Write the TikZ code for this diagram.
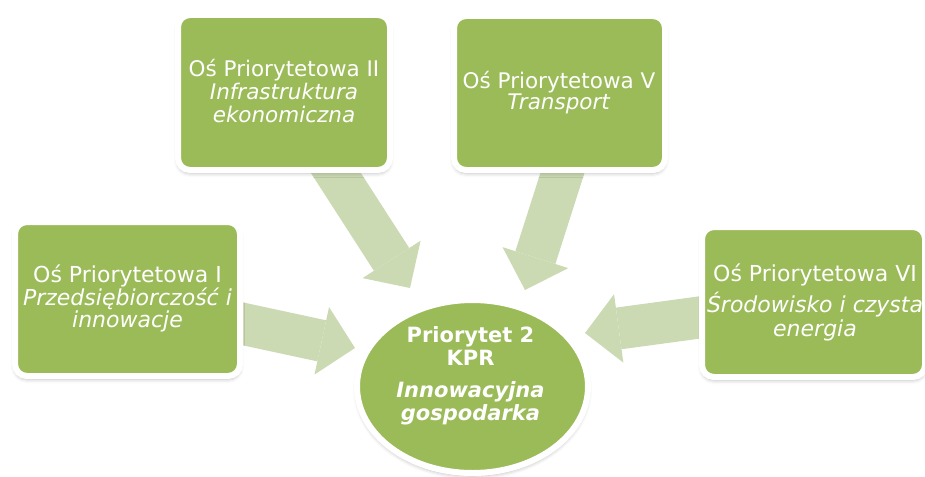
\documentclass[tikz,border=0pt]{standalone}
\usepackage{fontspec}
\setmainfont{DejaVu Sans}
\usetikzlibrary{arrows.meta,shadows.blur,backgrounds,shapes.geometric}
\definecolor{boxgreen}{HTML}{9BBB59}
\definecolor{arrowgreen}{HTML}{CBDAB3}
\tikzset{
  box/.style={rectangle, rounded corners=12pt, fill=boxgreen, draw=white, line width=6pt, inner sep=0pt,
    blur shadow={shadow xshift=0pt, shadow yshift=-3pt, shadow blur radius=4pt, shadow opacity=30}},
  hub/.style={ellipse, fill=boxgreen, draw=white, line width=6pt, inner sep=0pt,
    blur shadow={shadow xshift=0pt, shadow yshift=-3pt, shadow blur radius=4pt, shadow opacity=30}},
  lbl/.style={text=white, align=center, anchor=base, inner sep=0pt},
  flow/.style={draw=arrowgreen, line width=42pt, -{Triangle[length=34pt,width=69pt,line width=0pt]}},
}
\begin{document}
\begin{tikzpicture}[x=1pt,y=-1pt]
\useasboundingbox (0,0) rectangle (925,476);
% boxes
\node[box, minimum width=225pt, minimum height=154pt] (b1) at (127.5,299) {};
\node[box, minimum width=212pt, minimum height=155pt] (b2) at (284,92.5) {};
\node[box, minimum width=211pt, minimum height=154pt] (b5) at (559.5,93) {};
\node[box, minimum width=223pt, minimum height=150pt] (b6) at (813.5,302) {};
\node[hub, minimum width=231pt, minimum height=173pt] (c) at (472.5,386.5) {};
% arrow tips
\coordinate (t1) at (355,348);
\coordinate (t2) at (410,288);
\coordinate (t5) at (525,290);
\coordinate (t6) at (585,333);
\coordinate (s5) at (588,93);
\begin{scope}[on background layer]
  \draw[flow] (b1.center) -- (t1);
  \draw[flow] (b2.center) -- (t2);
  \draw[flow] (s5) -- (t5);
  \draw[flow] (b6.center) -- (t6);
\end{scope}
% labels (anchored at the baseline of the last line)
\node[lbl, font=\fontsize{22}{21.5}\selectfont] (l1) at (127.5,327)
  {Oś Priorytetowa I\\\textit{Przedsiębiorczość i}\\\textit{innowacje}};
\node[lbl, font=\fontsize{21.5}{22.8}\selectfont] (l2) at (284,122.3)
  {Oś Priorytetowa II\\\textit{Infrastruktura}\\\textit{ekonomiczna}};
\node[lbl, font=\fontsize{21.5}{21.7}\selectfont] (l5) at (559,110)
  {Oś Priorytetowa V\\\textit{Transport}};
\node[lbl, font=\fontsize{22}{24.5}\selectfont] (l6) at (815,336.7)
  {Oś Priorytetowa VI\\[4.5pt]\textit{Środowisko i czysta}\\\textit{energia}};
\node[lbl, font=\fontsize{21}{23}\selectfont\bfseries] (lc) at (470.5,420)
  {Priorytet 2\\KPR\\[9pt]\textit{Innowacyjna}\\\textit{gospodarka}};
\end{tikzpicture}
\end{document}
